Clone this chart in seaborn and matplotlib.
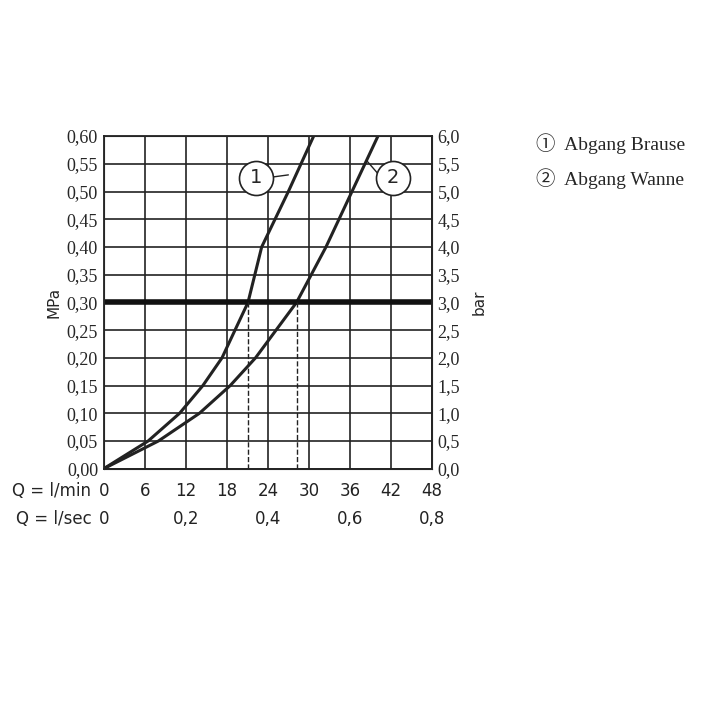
import matplotlib
matplotlib.use("Agg")
import matplotlib.pyplot as plt
import seaborn as sns
import numpy as np

sns.set_style("white")
plt.rcParams['font.family'] = ['Liberation Serif', 'Noto Sans CJK JP', 'DejaVu Serif']

# curve 1 (Abgang Brause) and curve 2 (Abgang Wanne): flow l/min vs MPa
q1 = [0, 6.5, 11.1, 14.5, 17.3, 21.1, 23.1, 27.0, 30.7]
p1 = [0, 0.05, 0.10, 0.15, 0.20, 0.30, 0.40, 0.50, 0.60]
q2 = [0, 8.0, 14.0, 18.5, 22.2, 28.2, 32.5, 36.3, 40.1]
p2 = [0, 0.05, 0.10, 0.15, 0.20, 0.30, 0.40, 0.50, 0.60]
xticks = [0, 6, 12, 18, 24, 30, 36, 42, 48]
sec_pos = [0, 12, 24, 36, 48]
sec_labels = ["0", "0,2", "0,4", "0,6", "0,8"]
mpa_ticks = np.round(np.arange(0, 0.601, 0.05), 2)
mark_p = 0.30
legend = ["\u2460  Abgang Brause", "\u2461  Abgang Wanne"]

fig = plt.figure(figsize=(7.2, 7.2), dpi=100)
ax = fig.add_axes([0.144, 0.349, 0.456, 0.462])
sns.lineplot(x=q1, y=p1, ax=ax, color="#222", lw=2.2, sort=False)
sns.lineplot(x=q2, y=p2, ax=ax, color="#222", lw=2.2, sort=False)
ax.set_xlim(0, 48)
ax.set_ylim(0, 0.6)
ax.set_xticks(xticks)
ax.set_yticks(mpa_ticks)
ax.grid(True, color="#222", lw=1.2)
for s in ax.spines.values():
    s.set_color("#222"); s.set_linewidth(1.3)
ax.axhline(mark_p, color="#111", lw=4)
for qx in [q1[5], q2[5]]:
    ax.plot([qx, qx], [0, mark_p], ls="--", color="#222", lw=1)
ax.set_xticklabels([])
ax.set_yticklabels([f"{v:.2f}".replace(".", ",") for v in mpa_ticks], fontsize=13)
ax.tick_params(length=0, pad=4)
ax.set_ylabel("MPa", family="DejaVu Sans", fontsize=11)
ax2 = ax.twinx()
ax2.set_ylim(0, 6)
ax2.set_yticks(mpa_ticks * 10)
ax2.set_yticklabels([f"{v*10:.1f}".replace(".", ",") for v in mpa_ticks], fontsize=13)
ax2.tick_params(length=0, pad=4)
ax2.set_ylabel("bar", family="DejaVu Sans", fontsize=11, rotation=90)
ax2.yaxis.set_label_coords(1.12, 0.5)

for v in xticks:
    ax.text(v, -0.04, str(v), ha="center", va="center", fontsize=12, family="DejaVu Sans", color="#222")
for v, l in zip(sec_pos, sec_labels):
    ax.text(v, -0.09, l, ha="center", va="center", fontsize=12, family="DejaVu Sans", color="#222")
ax.text(-1.8, -0.04, "Q = l/min", ha="right", va="center", fontsize=12, family="DejaVu Sans")
ax.text(-1.8, -0.09, "Q = l/sec", ha="right", va="center", fontsize=12, family="DejaVu Sans")

# circled labels with leaders
for (cx, cy, lx, ly, t) in [(22.3, 0.525, 27.0, 0.53, "1"), (42.3, 0.525, 38.5, 0.555, "2")]:
    ax.plot([cx + (1.7 if t == "1" else -1.7), lx], [cy, ly], color="#222", lw=1)
    ax.scatter([cx], [cy], s=600, facecolor="white", edgecolor="#222", lw=1.2, zorder=5)
    ax.text(cx, cy, t, ha="center", va="center", fontsize=14, family="DejaVu Sans", zorder=6)

fig.text(0.745, 0.8, legend[0], fontsize=14, va="center")
fig.text(0.745, 0.752, legend[1], fontsize=14, va="center")
fig.savefig("out.png")
